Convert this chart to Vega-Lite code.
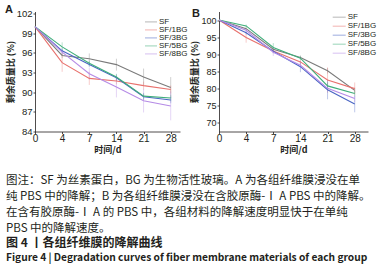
{
  "$schema": "https://vega.github.io/schema/vega-lite/v6.json",
  "padding": {"left": 5, "top": 3.5, "right": 0, "bottom": 0},
  "title": {
    "text": "Figure 4  |  Degradation curves of fiber membrane materials of each group",
    "orient": "bottom",
    "anchor": "start",
    "frame": "bounds",
    "offset": 4,
    "dx": 1,
    "font": "Noto Sans CJK SC",
    "fontSize": 10.2,
    "fontWeight": "bold",
    "color": "#231f20"
  },
  "vconcat": [
    {
      "spacing": 2,
      "resolve": {"legend": {"color": "independent"}},
      "title": {
        "text": [
          "图注：SF 为丝素蛋白，BG 为生物活性玻璃。A 为各组纤维膜浸没在单",
          "纯 PBS 中的降解；B 为各组纤维膜浸没在含胶原酶-Ⅰ A PBS 中的降解。",
          "在含有胶原酶-Ⅰ A 的 PBS 中，各组材料的降解速度明显快于在单纯",
          "PBS 中的降解速度。"
        ],
        "subtitle": "图 4 丨各组纤维膜的降解曲线",
        "orient": "bottom",
        "anchor": "start",
        "frame": "bounds",
        "offset": 20,
        "dx": 1,
        "font": "Noto Sans CJK SC",
        "fontSize": 11.5,
        "fontWeight": "normal",
        "lineHeight": 16,
        "color": "#231f20",
        "subtitleFont": "Noto Sans CJK SC",
        "subtitleFontSize": 12,
        "subtitleFontWeight": "bold",
        "subtitleLineHeight": 16,
        "subtitleColor": "#231f20",
        "subtitlePadding": 4
      },
      "hconcat": [
        {
          "width": 145,
          "height": 120,
          "title": {"text": "A", "anchor": "start", "frame": "group", "dx": -30, "dy": 7, "offset": 0, "fontSize": 11, "fontWeight": "bold", "font": "Liberation Sans", "color": "#231f20"},
          "data": {"values": [
            {"day": "0", "group": "SF", "value": 100, "err": 0},
            {"day": "0", "group": "SF/1BG", "value": 100, "err": 0},
            {"day": "0", "group": "SF/3BG", "value": 100, "err": 0},
            {"day": "0", "group": "SF/5BG", "value": 100, "err": 0},
            {"day": "0", "group": "SF/8BG", "value": 100, "err": 0},
            {"day": "4", "group": "SF", "value": 95.6, "err": 0.4},
            {"day": "4", "group": "SF/1BG", "value": 94.5, "err": 1.4},
            {"day": "4", "group": "SF/3BG", "value": 96.3, "err": 0.4},
            {"day": "4", "group": "SF/5BG", "value": 96.9, "err": 0.7},
            {"day": "4", "group": "SF/8BG", "value": 96.1, "err": 0.4},
            {"day": "7", "group": "SF", "value": 95.1, "err": 0.8},
            {"day": "7", "group": "SF/1BG", "value": 92.1, "err": 1.0},
            {"day": "7", "group": "SF/3BG", "value": 94.2, "err": 0.4},
            {"day": "7", "group": "SF/5BG", "value": 94.4, "err": 0.4},
            {"day": "7", "group": "SF/8BG", "value": 92.8, "err": 0.9},
            {"day": "14", "group": "SF", "value": 94.2, "err": 0.9},
            {"day": "14", "group": "SF/1BG", "value": 91.7, "err": 0.5},
            {"day": "14", "group": "SF/3BG", "value": 92.2, "err": 0.5},
            {"day": "14", "group": "SF/5BG", "value": 92.3, "err": 0.5},
            {"day": "14", "group": "SF/8BG", "value": 90.8, "err": 1.6},
            {"day": "21", "group": "SF", "value": 92.3, "err": 1.3},
            {"day": "21", "group": "SF/1BG", "value": 91.0, "err": 0.6},
            {"day": "21", "group": "SF/3BG", "value": 89.3, "err": 0.5},
            {"day": "21", "group": "SF/5BG", "value": 89.4, "err": 0.5},
            {"day": "21", "group": "SF/8BG", "value": 88.7, "err": 1.8},
            {"day": "28", "group": "SF", "value": 90.7, "err": 1.6},
            {"day": "28", "group": "SF/1BG", "value": 90.4, "err": 0.6},
            {"day": "28", "group": "SF/3BG", "value": 88.8, "err": 0.5},
            {"day": "28", "group": "SF/5BG", "value": 89.1, "err": 0.5},
            {"day": "28", "group": "SF/8BG", "value": 87.9, "err": 2.2}
          ]},
          "encoding": {
            "x": {"field": "day", "type": "ordinal", "title": "时间/d",
                  "scale": {"type": "point", "domain": ["0", "4", "7", "14", "21", "28"], "padding": 0.171, "align": 0},
                  "axis": {"labelAngle": 0}},
            "y": {"field": "value", "type": "quantitative", "title": "剩余质量比 (%)",
                  "scale": {"domain": [84, 102.3], "nice": false, "zero": false},
                  "axis": {"values": [84, 87, 90, 93, 96, 99, 102]}},
            "color": {"field": "group", "type": "nominal",
                      "scale": {"domain": ["SF", "SF/1BG", "SF/3BG", "SF/5BG", "SF/8BG"], "range": ["#7a7a7a", "#e8716d", "#4a66c4", "#3fae7a", "#b58be6"]},
                      "legend": {"orient": "none", "legendX": 109, "legendY": 7.4, "title": null, "symbolType": "stroke", "symbolSize": 144, "symbolStrokeWidth": 1.2, "labelFontSize": 8, "labelFont": "Liberation Sans", "labelColor": "#231f20", "clipHeight": 6, "rowPadding": 0, "padding": 0, "labelOffset": 1, "labelLimit": 60}}
          },
          "layer": [
            {"mark": {"type": "errorbar", "size": 5, "thickness": 0.8, "opacity": 0.45},
             "encoding": {"yError": {"field": "err"}}},
            {"mark": {"type": "line", "strokeWidth": 1.1}}
          ]
        },
        {
          "width": 149,
          "height": 120,
          "title": {"text": "B", "anchor": "start", "frame": "group", "dx": -27, "dy": 7, "offset": 0, "fontSize": 11, "fontWeight": "bold", "font": "Liberation Sans", "color": "#231f20"},
          "data": {"values": [
            {"day": "0", "group": "SF", "value": 100, "err": 0},
            {"day": "0", "group": "SF/1BG", "value": 100, "err": 0},
            {"day": "0", "group": "SF/3BG", "value": 100, "err": 0},
            {"day": "0", "group": "SF/5BG", "value": 100, "err": 0},
            {"day": "0", "group": "SF/8BG", "value": 100, "err": 0},
            {"day": "4", "group": "SF", "value": 97.5, "err": 0.5},
            {"day": "4", "group": "SF/1BG", "value": 94.9, "err": 1.5},
            {"day": "4", "group": "SF/3BG", "value": 96.3, "err": 0.5},
            {"day": "4", "group": "SF/5BG", "value": 98.3, "err": 0.4},
            {"day": "4", "group": "SF/8BG", "value": 97.0, "err": 0.5},
            {"day": "7", "group": "SF", "value": 91.5, "err": 0.6},
            {"day": "7", "group": "SF/1BG", "value": 91.0, "err": 0.6},
            {"day": "7", "group": "SF/3BG", "value": 90.9, "err": 0.6},
            {"day": "7", "group": "SF/5BG", "value": 92.0, "err": 1.3},
            {"day": "7", "group": "SF/8BG", "value": 90.6, "err": 1.1},
            {"day": "14", "group": "SF", "value": 89.1, "err": 0.6},
            {"day": "14", "group": "SF/1BG", "value": 87.8, "err": 0.7},
            {"day": "14", "group": "SF/3BG", "value": 86.4, "err": 1.6},
            {"day": "14", "group": "SF/5BG", "value": 88.9, "err": 0.6},
            {"day": "14", "group": "SF/8BG", "value": 86.8, "err": 0.8},
            {"day": "21", "group": "SF", "value": 85.2, "err": 0.8},
            {"day": "21", "group": "SF/1BG", "value": 82.5, "err": 3.7},
            {"day": "21", "group": "SF/3BG", "value": 79.7, "err": 2.8},
            {"day": "21", "group": "SF/5BG", "value": 80.8, "err": 1.0},
            {"day": "21", "group": "SF/8BG", "value": 80.1, "err": 1.0},
            {"day": "28", "group": "SF", "value": 79.5, "err": 0.8},
            {"day": "28", "group": "SF/1BG", "value": 80.0, "err": 1.8},
            {"day": "28", "group": "SF/3BG", "value": 75.5, "err": 2.4},
            {"day": "28", "group": "SF/5BG", "value": 78.6, "err": 0.8},
            {"day": "28", "group": "SF/8BG", "value": 77.1, "err": 1.0}
          ]},
          "encoding": {
            "x": {"field": "day", "type": "ordinal", "title": "时间/d",
                  "scale": {"type": "point", "domain": ["0", "4", "7", "14", "21", "28"], "padding": 0.245, "align": 0},
                  "axis": {"labelAngle": 0}},
            "y": {"field": "value", "type": "quantitative", "title": "剩余质量比 (%)",
                  "scale": {"domain": [67.5, 102.5], "nice": false, "zero": false},
                  "axis": {"values": [70, 75, 80, 85, 90, 95, 100], "labelFontSize": 9}},
            "color": {"field": "group", "type": "nominal",
                      "scale": {"domain": ["SF", "SF/1BG", "SF/3BG", "SF/5BG", "SF/8BG"], "range": ["#7a7a7a", "#e8716d", "#4a66c4", "#3fae7a", "#b58be6"]},
                      "legend": {"orient": "none", "legendX": 112.7, "legendY": 2.5, "title": null, "symbolType": "stroke", "symbolSize": 169, "symbolStrokeWidth": 1.2, "labelFontSize": 8, "labelFont": "Liberation Sans", "labelColor": "#231f20", "clipHeight": 6.4, "rowPadding": 0, "padding": 0, "labelOffset": 1, "labelLimit": 60}}
          },
          "layer": [
            {"mark": {"type": "errorbar", "size": 5, "thickness": 0.8, "opacity": 0.45},
             "encoding": {"yError": {"field": "err"}}},
            {"mark": {"type": "line", "strokeWidth": 1.1}}
          ]
        }
      ]
    }
  ],
  "config": {
    "view": {"stroke": null},
    "axis": {
      "grid": false,
      "domainColor": "#231f20",
      "domainWidth": 0.8,
      "tickColor": "#231f20",
      "tickWidth": 0.8,
      "tickSize": 2,
      "labelColor": "#231f20",
      "labelFont": "Liberation Sans",
      "labelFontSize": 9.5,
      "labelPadding": 1,
      "titleFont": "Noto Sans CJK SC",
      "titleFontSize": 9,
      "titleFontWeight": "bold",
      "titleColor": "#231f20",
      "titlePadding": 1
    },
    "axisX": {"labelPadding": 0, "labelFontSize": 10, "titlePadding": 2}
  }
}
